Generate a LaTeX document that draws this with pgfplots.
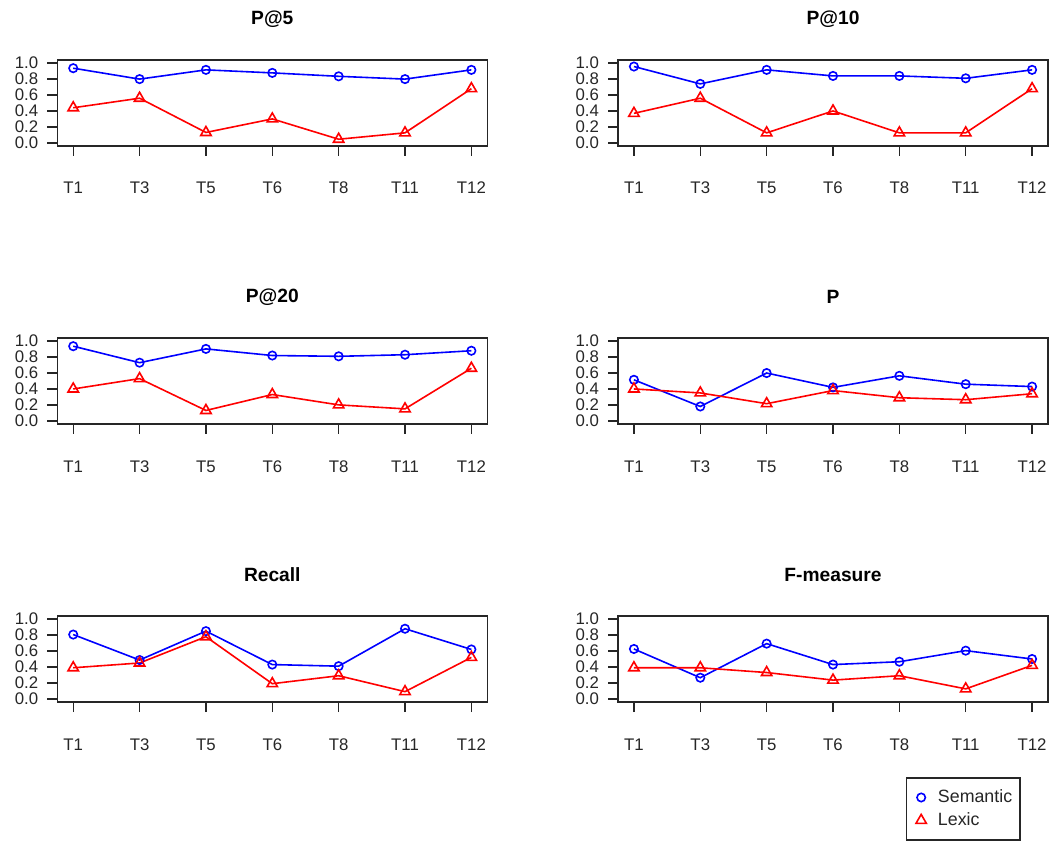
\documentclass[border=0pt]{standalone}
\usepackage{fontspec}
\setmainfont{Liberation Sans}
\usepackage{pgfplots}
\usepackage{pgfplotstable}
\pgfplotsset{compat=1.18}

% x: 1=T1, 2=T3, 3=T5, 4=T6, 5=T8, 6=T11, 7=T12
\pgfplotstableread{
x sem lex
1 0.937 0.44
2 0.800 0.56
3 0.916 0.13
4 0.878 0.30
5 0.835 0.045
6 0.800 0.125
7 0.916 0.68
}\pfive
\pgfplotstableread{
x sem lex
1 0.958 0.37
2 0.740 0.56
3 0.916 0.125
4 0.840 0.40
5 0.840 0.125
6 0.810 0.125
7 0.916 0.68
}\pten
\pgfplotstableread{
x sem lex
1 0.937 0.40
2 0.730 0.53
3 0.903 0.13
4 0.820 0.33
5 0.810 0.20
6 0.830 0.15
7 0.880 0.66
}\ptwenty
\pgfplotstableread{
x sem lex
1 0.515 0.40
2 0.180 0.35
3 0.600 0.215
4 0.420 0.38
5 0.565 0.29
6 0.460 0.265
7 0.430 0.34
}\pall
\pgfplotstableread{
x sem lex
1 0.807 0.39
2 0.487 0.45
3 0.850 0.78
4 0.430 0.19
5 0.410 0.29
6 0.880 0.09
7 0.620 0.52
}\recall
\pgfplotstableread{
x sem lex
1 0.626 0.39
2 0.265 0.39
3 0.693 0.33
4 0.430 0.235
5 0.466 0.29
6 0.605 0.125
7 0.500 0.42
}\fmeas

\definecolor{axgray}{gray}{0.15}
\pgfplotsset{
  panel/.style={
    scale only axis, width=215pt, height=43pt,
    xmin=0.76, xmax=7.24, ymin=-0.04, ymax=1.04,
    xtick={1,2,3,4,5,6,7}, xticklabels={T1,T3,T5,T6,T8,T11,T12},
    ytick={0,0.2,0.4,0.6,0.8,1},
    yticklabels={0.0,0.2,0.4,0.6,0.8,1.0},
    tick pos=left, tick align=outside, major tick length=5pt,
    axis line style={line width=0.7pt, axgray},
    every tick/.style={line width=0.7pt, axgray},
    ticklabel style={font=\fontsize{8.4}{9}\selectfont, text=axgray},
    xticklabel style={anchor=base, yshift=-19pt},
    yticklabel style={anchor=east, xshift=-1pt},
    title style={font=\bfseries\fontsize{9.6}{11}\selectfont, at={(0.5,1)}, anchor=center, yshift=14.5pt},
  },
  sem/.style={blue, line width=0.8pt, mark=o, mark size=2.1pt, mark options={line width=0.8pt, solid}},
  lex/.style={red, line width=0.8pt, mark=triangle, mark size=3pt, mark options={line width=0.8pt, solid}},
}

\begin{document}
\begin{tikzpicture}
\useasboundingbox (0,0) rectangle (526.5pt,420.5pt);

\begin{axis}[panel, at={(28.65pt,347.5pt)}, anchor=south west, title={P@5}]
\addplot[sem] table[x=x,y=sem] {\pfive};
\addplot[lex] table[x=x,y=lex] {\pfive};
\end{axis}

\begin{axis}[panel, at={(309pt,347.5pt)}, anchor=south west, title={P@10}]
\addplot[sem] table[x=x,y=sem] {\pten};
\addplot[lex] table[x=x,y=lex] {\pten};
\end{axis}

\begin{axis}[panel, at={(28.65pt,208.5pt)}, anchor=south west, title={P@20}]
\addplot[sem] table[x=x,y=sem] {\ptwenty};
\addplot[lex] table[x=x,y=lex] {\ptwenty};
\end{axis}

\begin{axis}[panel, at={(309pt,208.5pt)}, anchor=south west, title={P}]
\addplot[sem] table[x=x,y=sem] {\pall};
\addplot[lex] table[x=x,y=lex] {\pall};
\end{axis}

\begin{axis}[panel, at={(28.65pt,69.5pt)}, anchor=south west, title={Recall}]
\addplot[sem] table[x=x,y=sem] {\recall};
\addplot[lex] table[x=x,y=lex] {\recall};
\end{axis}

\begin{axis}[panel, at={(309pt,69.5pt)}, anchor=south west, title={F-measure},
  legend image code/.code={\path (-5pt,0pt) (3pt,0pt); \draw[#1] plot[only marks] coordinates {(0pt,0pt)};},
  legend style={at={(0.669,-0.876)}, anchor=north west, draw=axgray, line width=0.7pt,
    font=\fontsize{8.9}{9}\selectfont, text=axgray, legend cell align=left,
    inner xsep=2pt, inner ysep=4.75pt, row sep=1.5pt,
    nodes={inner xsep=2pt, inner ysep=1pt},
    /tikz/every odd column/.append style={column sep=3pt}},
  legend columns=1]
\addplot[sem] table[x=x,y=sem] {\fmeas};
\addplot[lex] table[x=x,y=lex] {\fmeas};
\legend{Semantic,Lexic}
\end{axis}
\end{tikzpicture}
\end{document}
